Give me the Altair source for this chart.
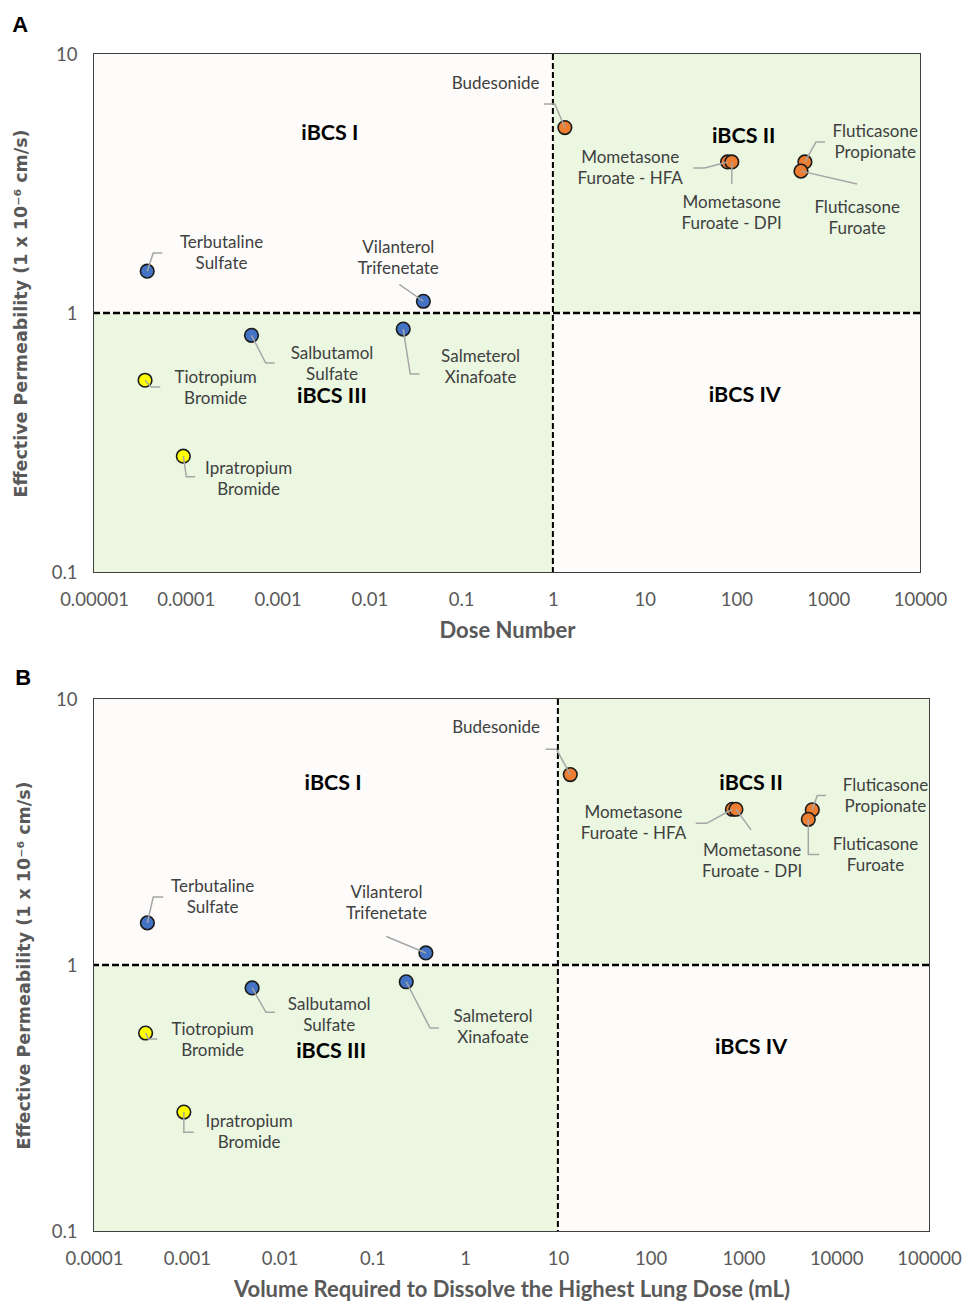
import altair as alt
import pandas as pd

# ---------------- data ----------------
names = ["Budesonide", "Mometasone Furoate - HFA", "Mometasone Furoate - DPI",
         "Fluticasone Propionate", "Fluticasone Furoate", "Terbutaline Sulfate",
         "Vilanterol Trifenetate", "Salbutamol Sulfate", "Salmeterol Xinafoate",
         "Tiotropium Bromide", "Ipratropium Bromide"]
label_text = ["Budesonide", "Mometasone\nFuroate - HFA", "Mometasone\nFuroate - DPI",
              "Fluticasone\nPropionate", "Fluticasone\nFuroate", "Terbutaline\nSulfate",
              "Vilanterol\nTrifenetate", "Salbutamol\nSulfate", "Salmeterol\nXinafoate",
              "Tiotropium\nBromide", "Ipratropium\nBromide"]
drug_group = ["orange"] * 5 + ["blue"] * 4 + ["yellow"] * 2

# Panel A: dose number vs permeability
dose_number = [1.35, 80, 89, 557, 505, 3.8e-5, 0.0388, 5.2e-4, 0.0234, 3.6e-5, 9.4e-5]
perm_a = [5.2, 3.83, 3.83, 3.83, 3.53, 1.45, 1.11, 0.82, 0.867, 0.55, 0.28]
label_x_a = [0.238, 6.95, 88.6, 3250, 2065, 2.45e-4, 0.0207, 3.92e-3, 0.163, 2.11e-4, 4.84e-4]
label_y_a = [6.97, 3.61, 2.42, 4.55, 2.32, 1.70, 1.62, 0.633, 0.616, 0.513, 0.228]
elbow_x_a = [1.05, 44.9, 89, 735, 2065, 4.42e-5, 0.0212, 7.43e-4, 0.0279, 4.2e-5, 1.015e-4]
elbow_y_a = [6.41, 3.63, 3.15, 4.57, 3.15, 1.705, 1.29, 0.641, 0.581, 0.518, 0.233]
end_x_a = [0.798, 34.0, 89, 923, 2065, 5.55e-5, 0.0212, 9.31e-4, 0.0351, 5.27e-5, 1.27e-4]

# Panel B: volume required to dissolve vs permeability
volume = [13.6, 760, 830, 5520, 5000, 3.76e-4, 0.378, 5.06e-3, 0.232, 3.6e-4, 9.3e-4]
perm_b = [5.2, 3.85, 3.85, 3.83, 3.53, 1.44, 1.11, 0.82, 0.865, 0.555, 0.28]
label_x_b = [2.16, 65.3, 1239, 33900, 26500, 1.9e-3, 0.142, 0.0343, 2.0, 1.9e-3, 4.7e-3]
label_y_b = [7.08, 3.39, 2.45, 4.30, 2.57, 1.79, 1.71, 0.645, 0.582, 0.521, 0.234]
elbow_x_b = [9.64, 401, 1208, 6250, 5000, 4.35e-4, 0.142, 7.13e-3, 0.418, 3.85e-4, 9.3e-4]
elbow_y_b = [6.47, 3.41, 3.22, 4.34, 2.6, 1.80, 1.28, 0.664, 0.58, 0.527, 0.235]
end_x_b = [7.36, 306, 1208, 7790, 6560, 5.57e-4, 0.142, 8.89e-3, 0.521, 4.81e-4, 1.19e-3]

quad_names = ["iBCS I", "iBCS II", "iBCS III", "iBCS IV"]
quad_x_a = [3.72e-3, 120, 3.92e-3, 123]
quad_y_a = [4.91, 4.78, 0.475, 0.478]
quad_x_b = [0.0378, 1208, 0.036, 1208]
quad_y_b = [4.8, 4.8, 0.472, 0.489]

y_ticks = [0.1, 1, 10]
x_ticks_a = [1e-5, 1e-4, 1e-3, 1e-2, 1e-1, 1, 10, 100, 1000, 10000]
x_ticks_b = [1e-4, 1e-3, 1e-2, 1e-1, 1, 10, 100, 1000, 10000, 100000]

GROUP_COLORS = {"orange": "#ED7D31", "blue": "#4472C4", "yellow": "#FFFF00"}
WHITE_Q = "#FDFCFA"
GREEN_Q = "#EBF7E0"
LABEL_FONT = "Lato"


def panel(letter, xs, ys, lx, ly, ex, ey, endx, qx, qy, xdomain, xsplit,
          xticks, xfmt, xtitle, width, height, ytitle_pad, title_offset):
    xscale = alt.Scale(type="log", domain=xdomain, nice=False)
    yscale = alt.Scale(type="log", domain=[0.1, 10], nice=False)
    xaxis = alt.Axis(values=xticks, format=xfmt, title=xtitle,
                     grid=False, ticks=False, domain=False,
                     labelFlush=False, labelOverlap=False,
                     labelFont=LABEL_FONT, labelFontSize=18.5,
                     labelColor="#595959", labelPadding=18,
                     titleFont=LABEL_FONT, titleFontSize=22,
                     titleFontWeight="bold", titleColor="#595959",
                     titlePadding=12)
    yaxis = alt.Axis(values=y_ticks, format=".1~f",
                     title="Effective Permeability (1 x 10⁻⁶ cm/s)",
                     grid=False, ticks=False, domain=False,
                     labelOverlap=False, labelFlush=False,
                     labelFont=LABEL_FONT, labelFontSize=18.5,
                     labelColor="#595959", labelPadding=17,
                     titleFont="DejaVu Sans", titleFontSize=17.5,
                     titleFontWeight="bold", titleColor="#595959",
                     titlePadding=ytitle_pad)
    X = alt.X("x:Q", scale=xscale, axis=xaxis)
    Y = alt.Y("y:Q", scale=yscale, axis=yaxis)

    quads = pd.DataFrame({
        "x": [xdomain[0], xsplit, xdomain[0], xsplit],
        "x2": [xsplit, xdomain[1], xsplit, xdomain[1]],
        "y": [1, 1, 0.1, 0.1],
        "y2": [10, 10, 1, 1],
        "fill": [WHITE_Q, GREEN_Q, GREEN_Q, WHITE_Q],
    })
    bg = alt.Chart(quads).mark_rect().encode(
        x=X, x2="x2:Q", y=Y, y2="y2:Q",
        color=alt.Color("fill:N", scale=None),
    )

    hline = alt.Chart(pd.DataFrame({"y": [1]})).mark_rule(
        color="black", strokeWidth=2.5, strokeDash=[7, 3]
    ).encode(y=Y)
    vline = alt.Chart(pd.DataFrame({"x": [xsplit]})).mark_rule(
        color="black", strokeWidth=2, strokeDash=[6, 3]
    ).encode(x=X)

    pts_df = pd.DataFrame({"name": names, "x": xs, "y": ys, "group": drug_group})
    pts = alt.Chart(pts_df).mark_point(
        filled=True, size=185, stroke="#1a1a1a", strokeWidth=1.6, opacity=1
    ).encode(
        x=X, y=Y,
        fill=alt.Fill("group:N", scale=alt.Scale(domain=list(GROUP_COLORS),
                                                 range=list(GROUP_COLORS.values())),
                      legend=None),
    )

    rows = []
    for i, n in enumerate(names):
        rows.append({"name": n, "k": 0, "x": xs[i], "y": ys[i]})
        rows.append({"name": n, "k": 1, "x": ex[i], "y": ey[i]})
        rows.append({"name": n, "k": 2, "x": endx[i], "y": ey[i]})
    leaders = alt.Chart(pd.DataFrame(rows)).mark_line(
        color="#A6A6A6", strokeWidth=1.5
    ).encode(x=X, y=Y, detail="name:N", order="k:Q")

    lab_df = pd.DataFrame({"t": label_text, "x": lx, "y": ly})
    labels = alt.Chart(lab_df).mark_text(
        font=LABEL_FONT, fontSize=17, color="#404040", lineBreak="\n",
        lineHeight=21, align="center", baseline="middle", dy=-10.5
    ).encode(x=X, y=Y, text="t:N")

    q_df = pd.DataFrame({"t": quad_names, "x": qx, "y": qy})
    qlabels = alt.Chart(q_df).mark_text(
        font=LABEL_FONT, fontSize=21.5, fontWeight="bold", color="black",
        align="center", baseline="middle"
    ).encode(x=X, y=Y, text="t:N")

    return alt.layer(bg, hline, vline, pts, leaders, labels, qlabels).properties(
        width=width, height=height,
        title=alt.TitleParams(letter, anchor="start", frame="bounds",
                              font="Liberation Sans", fontSize=22,
                              fontWeight="bold", color="black",
                              offset=title_offset),
    )


panel_a = panel("A", dose_number, perm_a, label_x_a, label_y_a, elbow_x_a, elbow_y_a,
                end_x_a, quad_x_a, quad_y_a, [1e-5, 1e4], 1, x_ticks_a, ".5~f",
                "Dose Number", 826, 518, 21, 8)
panel_b = panel("B", volume, perm_b, label_x_b, label_y_b, elbow_x_b, elbow_y_b,
                end_x_b, quad_x_b, quad_y_b, [1e-4, 1e5], 10, x_ticks_b, ".4~f",
                "Volume Required to Dissolve the Highest Lung Dose (mL)", 835, 532, 18, 0)

chart = alt.vconcat(panel_a, panel_b, spacing=23).properties(
    padding={"left": 3, "top": 5, "right": 0, "bottom": 0},
    background="white",
).configure_view(
    stroke="#404040", strokeWidth=2
)

chart.save("out.html", embed_options={"renderer": "svg", "actions": False})
